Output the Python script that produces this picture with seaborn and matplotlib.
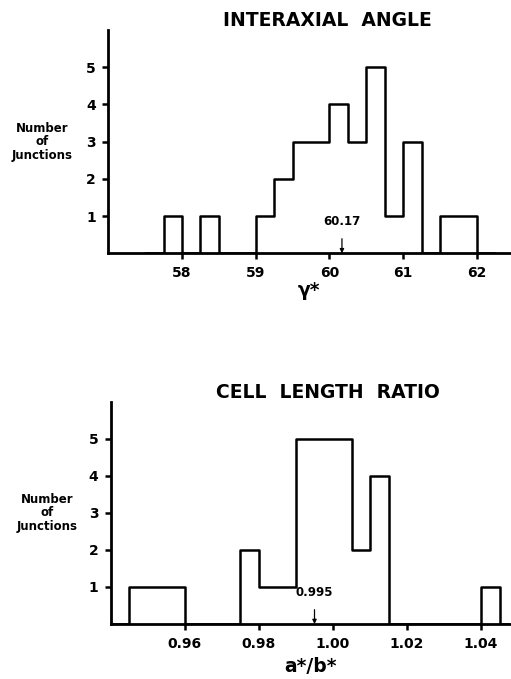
import numpy as np
import pandas as pd
import matplotlib
matplotlib.use("Agg")
import matplotlib.pyplot as plt
import seaborn as sns

sns.set_theme(style="white")
plt.rcParams['font.family'] = ['DejaVu Sans']
plt.rcParams['font.weight'] = 'bold'
plt.rcParams['text.color'] = 'black'
plt.rcParams['axes.labelcolor'] = 'black'
plt.rcParams['xtick.color'] = 'black'
plt.rcParams['ytick.color'] = 'black'

# interaxial angle gamma*, bins of 0.25 deg
angle_bin_starts = [57.75, 58.0, 58.25, 58.5, 58.75, 59.0, 59.25, 59.5, 59.75,
                    60.0, 60.25, 60.5, 60.75, 61.0, 61.25, 61.5, 61.75]
angle_counts = [1, 0, 1, 0, 0, 1, 2, 3, 3, 4, 3, 5, 1, 3, 0, 1, 1]
angle_mean = 60.17
angle_ticks = [58, 59, 60, 61, 62]

# cell length ratio a*/b*, bins of 0.005
ratio_bin_starts = [0.945, 0.950, 0.955, 0.960, 0.965, 0.970, 0.975, 0.980, 0.985, 0.990,
                    0.995, 1.000, 1.005, 1.010, 1.015, 1.020, 1.025, 1.030, 1.035, 1.040]
ratio_counts = [1, 1, 1, 0, 0, 0, 2, 1, 1, 5, 5, 5, 2, 4, 0, 0, 0, 0, 0, 1]
ratio_mean = 0.995
ratio_ticks = [0.96, 0.98, 1.00, 1.02, 1.04]
ratio_ticklabels = ['0.96', '0.98', '1.00', '1.02', '1.04']

y_ticks = [1, 2, 3, 4, 5]


def draw_panel(fig, rect, starts, counts, width, xlim, ticks, ticklabels,
               title, xlabel, mean, mean_label, labelpad, ylab_x):
    ax = fig.add_axes(rect)
    starts = np.array(starts)
    # one empty bin on each side so the outline drops to the baseline
    edges = np.concatenate([[starts[0] - width], starts, [starts[-1] + width, starts[-1] + 2 * width]])
    edges = [round(float(e), 4) for e in edges]
    df = pd.DataFrame({'x': starts + width / 2, 'n': counts})
    sns.histplot(data=df, x='x', weights='n', bins=edges, element='step',
                 fill=False, color='black', linewidth=1.8, ax=ax)
    ax.set_xlim(*xlim)
    ax.set_ylim(0, 6)
    ax.set_xticks(ticks)
    ax.set_xticklabels(ticklabels, fontsize=10, fontweight='bold')
    ax.set_yticks(y_ticks)
    ax.set_yticklabels([str(t) for t in y_ticks], fontsize=10, fontweight='bold')
    ax.tick_params(axis='both', direction='out', length=4, width=1.8, color='black',
                   left=True, bottom=True, pad=5)
    for s in ['top', 'right']:
        ax.spines[s].set_visible(False)
    for s in ['left', 'bottom']:
        ax.spines[s].set_linewidth(2)
        ax.spines[s].set_color('black')
    ax.set_ylabel('')
    ax.set_xlabel(xlabel, fontsize=13.5, fontweight='bold', labelpad=labelpad)
    ax.text(0.545, 1.0, title, transform=ax.transAxes, ha='center', va='bottom',
            fontsize=13.5, fontweight='bold')
    ax.text(ylab_x, 0.5, 'Number\nof\nJunctions', transform=ax.transAxes, ha='center',
            va='center', fontsize=8.5, fontweight='bold', linespacing=1.05)
    ax.annotate(mean_label, xy=(mean, 0), xytext=(mean, 0.84), ha='center', va='center',
                fontsize=8.5, fontweight='bold',
                arrowprops=dict(arrowstyle='-|>', color='black', lw=0.9,
                                mutation_scale=6, shrinkA=5, shrinkB=0))
    ax.grid(False)
    return ax


fig = plt.figure(figsize=(5.11, 6.79), dpi=100)

draw_panel(fig, [0.212, 0.627, 0.786, 0.329], angle_bin_starts, angle_counts, 0.25,
           (57.0, 62.45), angle_ticks, [str(t) for t in angle_ticks],
           'INTERAXIAL  ANGLE', 'γ*', angle_mean, '60.17', 1, -0.165)

draw_panel(fig, [0.217, 0.081, 0.781, 0.327], ratio_bin_starts, ratio_counts, 0.005,
           (0.94, 1.0478), ratio_ticks, ratio_ticklabels,
           'CELL  LENGTH  RATIO', 'a*/b*', ratio_mean, '0.995', 5, -0.16)

fig.savefig('out.png', dpi=100)
